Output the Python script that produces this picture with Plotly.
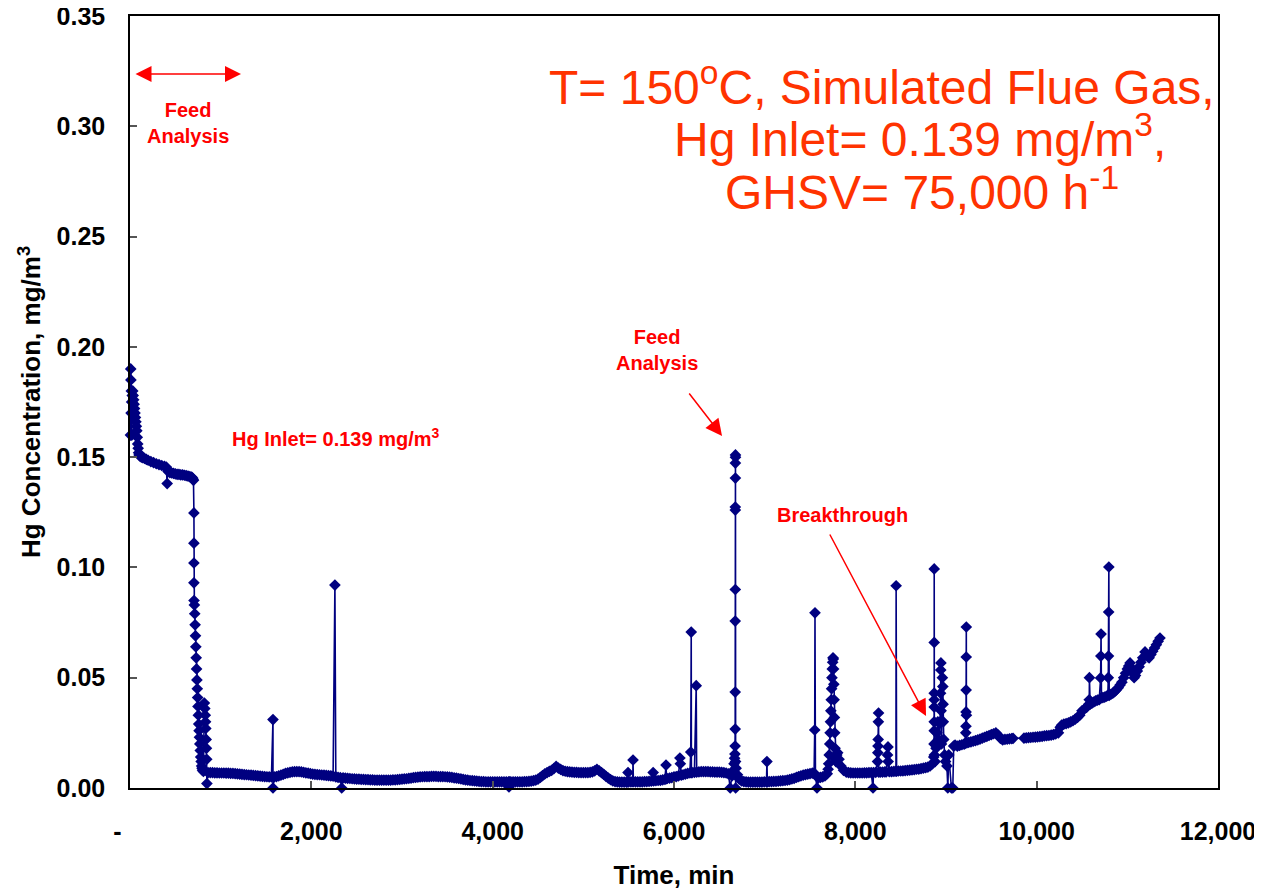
import plotly.graph_objects as go

# ---------------- data ----------------
t_start = [5, 8, 10, 12, 15, 18, 20, 25, 30, 35, 40, 45, 50, 55, 60, 65, 70, 75, 80, 85, 90, 95, 100,
           110, 125, 140, 160, 180, 200, 230, 260, 290, 320, 350, 380, 400, 410, 415, 420, 440, 460, 480, 500,
           520, 540, 560, 580, 600, 620, 640, 660, 680, 690, 695, 700]
c_start = [0.160, 0.190, 0.185, 0.170, 0.180, 0.175, 0.160, 0.178, 0.180, 0.178, 0.176, 0.174, 0.172, 0.170,
           0.168, 0.166, 0.164, 0.162, 0.159, 0.156, 0.154, 0.152, 0.151,
           0.1505, 0.150, 0.1498, 0.1494, 0.149, 0.1486, 0.148, 0.1475, 0.147, 0.1466, 0.1462, 0.1458, 0.1455,
           0.138, 0.1445, 0.1435, 0.143, 0.1428, 0.1426, 0.1424,
           0.1422, 0.1422, 0.142, 0.142, 0.1418, 0.1416, 0.1414, 0.1412, 0.141, 0.1405, 0.140, 0.1395]

t_drop = [705, 705, 705, 705, 706, 710, 714, 718, 722, 726, 730, 734, 738, 742, 746, 750,
          754, 758, 762, 766, 770, 775, 780, 785, 790, 795, 800, 810]
c_drop = [0.1247, 0.111, 0.102, 0.093, 0.085, 0.083, 0.079, 0.074, 0.069, 0.064, 0.059, 0.054, 0.049, 0.045,
          0.041, 0.037, 0.033, 0.029, 0.026, 0.023, 0.020, 0.017, 0.014, 0.012, 0.010, 0.009, 0.008, 0.0075]

t_scatter = [820, 825, 830, 833, 836, 840, 843, 846, 848]
c_scatter = [0.0385, 0.036, 0.033, 0.030, 0.027, 0.022, 0.018, 0.013, 0.002]

t_base1 = [860, 885, 910, 935, 960, 985, 1010, 1035, 1060, 1085,
           1110, 1135, 1160, 1185, 1210, 1235, 1260, 1285, 1310, 1335,
           1360, 1385, 1410, 1435, 1460, 1485, 1510, 1535, 1560, 1577,
           1577, 1590, 1615, 1640, 1665, 1690, 1715, 1740, 1765, 1790,
           1815, 1840, 1865, 1890, 1915, 1940, 1965, 1990, 2015, 2040,
           2065, 2090, 2115, 2140, 2165, 2190, 2215, 2240, 2260, 2270,
           2295, 2320, 2335, 2350]
c_base1 = [0.0070, 0.0070, 0.0070, 0.0069, 0.0069, 0.0068, 0.0068, 0.0068, 0.0067, 0.0067,
           0.0066, 0.0066, 0.0065, 0.0064, 0.0063, 0.0062, 0.0061, 0.0060, 0.0059, 0.0058,
           0.0057, 0.0056, 0.0055, 0.0054, 0.0053, 0.0052, 0.0051, 0.0050, 0.0050, 0.0310,
           0.0, 0.0050, 0.0052, 0.0055, 0.0058, 0.0062, 0.0066, 0.0069, 0.0071, 0.0073,
           0.0074, 0.0074, 0.0074, 0.0073, 0.0071, 0.0069, 0.0067, 0.0065, 0.0063, 0.0062,
           0.0061, 0.0060, 0.0059, 0.0058, 0.0057, 0.0056, 0.0055, 0.0054, 0.0920, 0.0050,
           0.0048, 0.0047, 0.0, 0.0046]

t_base2 = [2375, 2400, 2425, 2450, 2475, 2500, 2525, 2550, 2575, 2600,
           2625, 2650, 2675, 2700, 2725, 2750, 2775, 2800, 2825, 2850,
           2875, 2900, 2925, 2950, 2975, 3000, 3025, 3050, 3075, 3100,
           3125, 3150, 3175, 3200, 3225, 3250, 3275, 3300, 3325, 3350,
           3375, 3400, 3425, 3450, 3475, 3500, 3525, 3550, 3575, 3600,
           3625, 3650, 3675, 3700, 3725, 3750, 3775, 3800, 3825, 3850,
           3875, 3900, 3925, 3950, 3975, 4000, 4025, 4050, 4075, 4100,
           4125, 4150, 4175, 4180, 4185, 4200, 4225, 4250, 4275, 4300,
           4325, 4350, 4375, 4400, 4425, 4450, 4475]
c_base2 = [0.0045, 0.0044, 0.0043, 0.0042, 0.0041, 0.0040, 0.0040, 0.0039, 0.0039, 0.0038,
           0.0038, 0.0037, 0.0037, 0.0036, 0.0036, 0.0036, 0.0036, 0.0036, 0.0036, 0.0036,
           0.0036, 0.0037, 0.0037, 0.0038, 0.0039, 0.0040, 0.0041, 0.0042, 0.0044, 0.0045,
           0.0047, 0.0048, 0.0049, 0.0050, 0.0051, 0.0052, 0.0052, 0.0052, 0.0053, 0.0053,
           0.0053, 0.0052, 0.0052, 0.0052, 0.0051, 0.0050, 0.0049, 0.0048, 0.0046, 0.0045,
           0.0043, 0.0041, 0.0039, 0.0037, 0.0036, 0.0034, 0.0033, 0.0032, 0.0031, 0.0030,
           0.0029, 0.0029, 0.0028, 0.0028, 0.0028, 0.0028, 0.0028, 0.0028, 0.0028, 0.0028,
           0.0028, 0.0028, 0.0028, 0.0005, 0.0028, 0.0028, 0.0028, 0.0028, 0.0028, 0.0028,
           0.0028, 0.0029, 0.0029, 0.0030, 0.0031, 0.0033, 0.0036]

t_bump = [4500, 4525, 4550, 4575, 4600, 4625, 4650, 4675, 4700, 4725,
          4750, 4775, 4800, 4825, 4850, 4875, 4900, 4925, 4950, 4975,
          5000, 5025, 5050, 5075, 5100, 5125, 5150, 5175, 5200, 5225,
          5250, 5275, 5300, 5325, 5350, 5375, 5400, 5425]
c_bump = [0.0040, 0.0048, 0.0056, 0.0064, 0.0070, 0.0075, 0.0080, 0.0088, 0.0098, 0.0090,
          0.0084, 0.0079, 0.0076, 0.0074, 0.0073, 0.0072, 0.0071, 0.0071, 0.0070, 0.0070,
          0.0070, 0.0070, 0.0070, 0.0071, 0.0073, 0.0078, 0.0085, 0.0078, 0.0070, 0.0062,
          0.0053, 0.0045, 0.0038, 0.0032, 0.0029, 0.0028, 0.0027, 0.0027]

t_mid = [5450, 5475, 5490, 5493, 5500, 5525, 5545, 5548, 5552, 5575,
         5600, 5625, 5650, 5675, 5700, 5725, 5750, 5770, 5775, 5800,
         5825, 5850, 5875, 5900, 5912, 5918, 5925, 5950, 5975, 6000,
         6025, 6050, 6065, 6070, 6080, 6100, 6125, 6150, 6175, 6185,
         6190, 6192, 6200, 6225, 6245, 6250, 6275, 6300, 6325, 6350,
         6375, 6400, 6425, 6450, 6475, 6500, 6525, 6550, 6575, 6600,
         6620, 6640]
c_mid = [0.0027, 0.0027, 0.0028, 0.0070, 0.0028, 0.0028, 0.0029, 0.0127, 0.0029, 0.0028,
         0.0028, 0.0028, 0.0028, 0.0029, 0.0029, 0.0030, 0.0031, 0.0070, 0.0032, 0.0033,
         0.0034, 0.0035, 0.0037, 0.0039, 0.0104, 0.0042, 0.0043, 0.0045, 0.0047, 0.0050,
         0.0052, 0.0055, 0.0136, 0.0110, 0.0058, 0.0060, 0.0063, 0.0066, 0.0068, 0.0163,
         0.0707, 0.0070, 0.0070, 0.0071, 0.0464, 0.0072, 0.0073, 0.0074, 0.0074, 0.0074,
         0.0074, 0.0073, 0.0073, 0.0072, 0.0072, 0.0072, 0.0071, 0.0070, 0.0068, 0.0064,
         0.0, 0.0055]

t_feed = [6655, 6662, 6668, 6672, 6674, 6675, 6675, 6675, 6676, 6676,
          6676, 6677, 6677, 6678, 6678, 6679, 6680, 6685, 6700, 6720]
c_feed = [0.0080, 0.0110, 0.0135, 0.0154, 0.0190, 0.0267, 0.0435, 0.0757, 0.0900, 0.1260,
          0.1274, 0.1405, 0.1473, 0.1510, 0.1500, 0.0120, 0.0, 0.0090, 0.0060, 0.0040]

t_post = [6745, 6770, 6795, 6820, 6845, 6870, 6895, 6920, 6945, 6970,
          6995, 7020, 7025, 7030, 7050, 7075, 7100, 7125, 7150, 7175,
          7200, 7225, 7250, 7275, 7300, 7325, 7350, 7375, 7400, 7425,
          7450, 7475, 7500, 7525, 7545, 7552, 7555, 7560, 7577, 7590,
          7615, 7640, 7665]
c_post = [0.0032, 0.0029, 0.0028, 0.0027, 0.0027, 0.0027, 0.0027, 0.0027, 0.0027, 0.0027,
          0.0028, 0.0028, 0.0120, 0.0028, 0.0029, 0.0029, 0.0030, 0.0030, 0.0031, 0.0032,
          0.0033, 0.0034, 0.0036, 0.0038, 0.0041, 0.0044, 0.0048, 0.0052, 0.0055, 0.0058,
          0.0061, 0.0063, 0.0065, 0.0067, 0.0068, 0.0263, 0.0794, 0.0060, 0.0, 0.0045,
          0.0048, 0.0050, 0.0055]

t_peak = [7690, 7700, 7706, 7712, 7718, 7722, 7726, 7730, 7734, 7738,
          7742, 7746, 7750, 7754, 7757, 7760, 7763, 7766, 7769, 7772,
          7776, 7780, 7786, 7795, 7805, 7820, 7840, 7870, 7900]
c_peak = [0.0065, 0.0085, 0.0110, 0.0150, 0.0200, 0.0250, 0.0300, 0.0350, 0.0400, 0.0450,
          0.0500, 0.0540, 0.0570, 0.0590, 0.0585, 0.0540, 0.0470, 0.0400, 0.0320, 0.0250,
          0.0180, 0.0130, 0.0120, 0.0150, 0.0160, 0.0130, 0.0100, 0.0080, 0.0072]

t_late = [7925, 7950, 7975, 8000, 8025, 8050, 8075, 8100, 8125, 8150,
          8175, 8195, 8200, 8225, 8245, 8248, 8250, 8252, 8254, 8256,
          8258, 8275, 8300, 8325, 8340, 8355, 8360, 8362, 8375, 8400,
          8425, 8448, 8450, 8455, 8475, 8500, 8525, 8550, 8575, 8600,
          8625, 8650, 8675, 8700, 8725, 8750, 8775, 8800, 8825, 8850]
c_late = [0.0070, 0.0069, 0.0068, 0.0068, 0.0068, 0.0068, 0.0068, 0.0069, 0.0069, 0.0070,
          0.0070, 0.0, 0.0070, 0.0071, 0.0120, 0.0160, 0.0190, 0.0220, 0.0300, 0.0340,
          0.0072, 0.0072, 0.0072, 0.0073, 0.0073, 0.0150, 0.0186, 0.0120, 0.0074, 0.0074,
          0.0075, 0.0076, 0.0917, 0.0076, 0.0077, 0.0077, 0.0078, 0.0079, 0.0080, 0.0081,
          0.0082, 0.0083, 0.0085, 0.0086, 0.0088, 0.0090, 0.0092, 0.0095, 0.0100, 0.0110]

t_break = [8865, 8868, 8870, 8870, 8870, 8870, 8870, 8870, 8870,
           8872, 8880, 8890, 8900, 8910, 8920, 8935, 8940, 8942, 8944,
           8946, 8950, 8960, 8965, 8968, 8970, 8975, 8985, 8995, 9010,
           9020, 9030, 9060, 9075, 9085, 9100]
c_break = [0.0140, 0.0200, 0.0260, 0.0300, 0.0367, 0.0430, 0.0660, 0.0993, 0.0400,
           0.0150, 0.0120, 0.0180, 0.0250, 0.0300, 0.0220, 0.0300, 0.0430, 0.0535, 0.0567,
           0.0350, 0.0200, 0.0500, 0.0460, 0.0380, 0.0300, 0.0220, 0.0150, 0.0120, 0.0100,
           0.0, 0.0150, 0.0, 0.0, 0.0190, 0.0195]

t_after = [9125, 9150, 9175, 9200, 9210, 9218, 9220, 9221, 9222, 9223,
           9224, 9225, 9230, 9250, 9275, 9300, 9325, 9350, 9375, 9400,
           9425, 9450, 9475, 9500, 9525, 9550, 9575, 9600, 9625, 9650,
           9675, 9700, 9725, 9740]
c_after = [0.0190, 0.0193, 0.0196, 0.0199, 0.0202, 0.0250, 0.0280, 0.0345, 0.0444, 0.0594,
           0.0730, 0.0330, 0.0205, 0.0207, 0.0209, 0.0212, 0.0215, 0.0218, 0.0222, 0.0226,
           0.0230, 0.0234, 0.0238, 0.0242, 0.0246, 0.0250, 0.0240, 0.0225, 0.0218, 0.0220,
           0.0221, 0.0223, 0.0224, 0.0225]

t_end = [9860, 9885, 9910, 9935, 9960, 9985, 10010, 10035, 10060, 10085,
         10110, 10135, 10160, 10185, 10210, 10240, 10260, 10275, 10300, 10325,
         10350, 10375, 10400, 10425, 10450, 10475, 10500, 10525, 10550, 10575,
         10580, 10582, 10590, 10610, 10630, 10650, 10670, 10690, 10705, 10708,
         10710, 10715, 10730, 10750, 10770, 10785, 10790, 10792, 10794, 10796,
         10800, 10820, 10840, 10860, 10880, 10900, 10920, 10940, 10960, 10980,
         11000, 11015, 11030, 11045, 11060, 11075, 11090, 11110, 11130, 11150,
         11170, 11195, 11210, 11225, 11240, 11260, 11280, 11300, 11320, 11340,
         11360]
c_end = [0.0226, 0.0227, 0.0228, 0.0229, 0.0230, 0.0231, 0.0232, 0.0233, 0.0234, 0.0236,
         0.0237, 0.0238, 0.0240, 0.0242, 0.0245, 0.0250, 0.0275, 0.0285, 0.0290, 0.0292,
         0.0295, 0.0300, 0.0305, 0.0312, 0.0320, 0.0330, 0.0350, 0.0358, 0.0365, 0.0380,
         0.0400, 0.0500, 0.0380, 0.0385, 0.0390, 0.0395, 0.0398, 0.0400, 0.0499, 0.0598,
         0.0698, 0.0410, 0.0410, 0.0412, 0.0416, 0.0420, 0.0500, 0.0598, 0.0798, 0.1002,
         0.0420, 0.0425, 0.0430, 0.0437, 0.0445, 0.0455, 0.0467, 0.0480, 0.0500, 0.0520,
         0.0540, 0.0553, 0.0567, 0.0545, 0.0520, 0.0500, 0.0510, 0.0530, 0.0550, 0.0570,
         0.0590, 0.0617, 0.0605, 0.0595, 0.0590, 0.0605, 0.0620, 0.0635, 0.0650, 0.0665,
         0.0680]

x_tick_vals = [0, 2000, 4000, 6000, 8000, 10000, 12000]
x_tick_text = ["-", "2,000", "4,000", "6,000", "8,000", "10,000", "12,000"]
y_tick_vals = [0.00, 0.05, 0.10, 0.15, 0.20, 0.25, 0.30, 0.35]

time_min = (t_start + t_drop + t_scatter + t_base1 + t_base2 + t_bump + t_mid + t_feed
            + t_post + t_peak + t_late + t_break + t_after + t_end)
hg_conc = (c_start + c_drop + c_scatter + c_base1 + c_base2 + c_bump + c_mid + c_feed
           + c_post + c_peak + c_late + c_break + c_after + c_end)

# ---------------- figure ----------------
FONT = "Liberation Sans, Arial, sans-serif"
NAVY = "#000080"
RED = "#FF0000"
ORANGE = "#FF3300"
PAD = "\u2003"

fig = go.Figure()
fig.add_trace(go.Scatter(
    x=time_min, y=hg_conc, mode="lines+markers",
    line=dict(color=NAVY, width=1.6),
    marker=dict(symbol="diamond", size=9, color=NAVY, line=dict(width=0)),
    cliponaxis=False, showlegend=False, hoverinfo="x+y"))

# the page body adds an 8px offset, so margins are shifted by that amount
fig.update_layout(
    width=1262, height=888,
    margin=dict(l=122, r=52, t=8, b=108, autoexpand=False),
    paper_bgcolor="white", plot_bgcolor="white",
    font=dict(family=FONT, color="black"),
    showlegend=False,
)

fig.update_xaxes(
    range=[0, 12000], tickvals=x_tick_vals,
    ticktext=[t + (PAD if t == "-" else "") for t in x_tick_text],
    ticks="inside", ticklen=7, tickwidth=1.5, tickcolor="#555555",
    showline=True, linecolor="black", linewidth=1.5, mirror=True,
    showgrid=False, zeroline=False, automargin=False, ticklabeloverflow="allow",
    tickfont=dict(family=FONT, size=25, color="black", weight="bold"),
    ticklabelstandoff=20,
    title=dict(text="Time, min", font=dict(family=FONT, size=26, color="black", weight="bold"), standoff=22),
)
fig.update_yaxes(
    range=[0, 0.35], tickvals=y_tick_vals, tickformat=".2f",
    ticks="inside", ticklen=7, tickwidth=1.5, tickcolor="#555555",
    showline=True, linecolor="black", linewidth=1.5, mirror=True,
    showgrid=False, zeroline=False, automargin=False, ticklabeloverflow="allow",
    tickfont=dict(family=FONT, size=25, color="black", weight="bold"),
    ticklabelstandoff=18,
    title=dict(text="Hg Concentration, mg/m<sup>3</sup>",
               font=dict(family=FONT, size=26, color="black", weight="bold"), standoff=8),
)

small = dict(family=FONT, size=20, color=RED, weight="bold")
big = dict(family=FONT, size=48, color=ORANGE)

annotations = [
    # double headed arrow (feed analysis period)
    dict(x=1224, y=0.3237, ax=44, ay=0.3237, xref="x", yref="y", axref="x", ayref="y",
         text="", showarrow=True, arrowside="end+start", arrowhead=2, startarrowhead=2,
         arrowsize=2.0, startarrowsize=2.0, arrowwidth=1.6, arrowcolor=RED),
    dict(x=640, y=0.3015, xref="x", yref="y", text="Feed<br>Analysis", showarrow=False,
         font=small, align="center"),
    dict(x=1103, y=0.1587, xref="x", yref="y", text="Hg Inlet= 0.139 mg/m<sup>3</sup>",
         showarrow=False, xanchor="left", font=small),
    dict(x=5813, y=0.1986, xref="x", yref="y", text="Feed<br>Analysis", showarrow=False,
         font=small, align="center"),
    dict(x=6530, y=0.1596, ax=6155, ay=0.1795, xref="x", yref="y", axref="x", ayref="y",
         text="", showarrow=True, arrowhead=2, arrowsize=2.2, arrowwidth=1.5, arrowcolor=RED),
    dict(x=7853, y=0.1238, xref="x", yref="y", text="Breakthrough", showarrow=False, font=small),
    dict(x=8780, y=0.0326, ax=7710, ay=0.1156, xref="x", yref="y", axref="x", ayref="y",
         text="", showarrow=True, arrowhead=2, arrowsize=2.2, arrowwidth=1.5, arrowcolor=RED),
    dict(x=8294, y=0.3192, xref="x", yref="y", text="T= 150<sup>o</sup>C, Simulated Flue Gas,",
         showarrow=False, font=big),
    dict(x=8714, y=0.2955, xref="x", yref="y", text="Hg Inlet= 0.139 mg/m<sup>3</sup>,",
         showarrow=False, font=big),
    dict(x=8736, y=0.2715, xref="x", yref="y", text="GHSV= 75,000 h<sup>-1</sup>",
         showarrow=False, font=big),
]
fig.update_layout(annotations=annotations)

fig.write_html("out.html")
